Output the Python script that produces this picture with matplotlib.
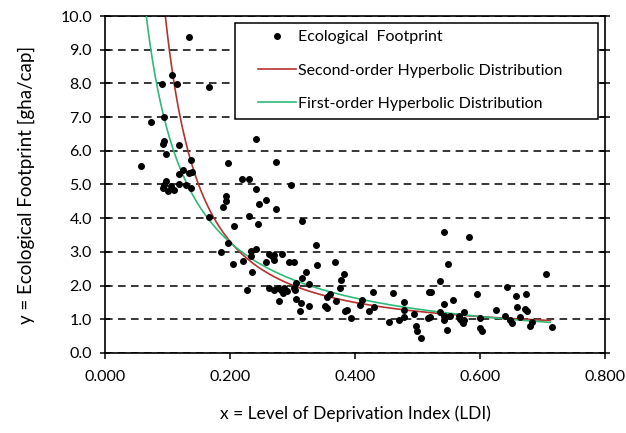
import numpy as np
import matplotlib
matplotlib.use('Agg')
import matplotlib.pyplot as plt
from matplotlib.patches import Rectangle

# Ecological footprint points (LDI, gha/cap)
ldi = [0.135, 0.107, 0.091, 0.115, 0.166, 0.094, 0.073, 0.095, 0.092, 0.119,
       0.098, 0.058, 0.137, 0.124, 0.118, 0.139, 0.135, 0.097, 0.094, 0.092,
       0.105, 0.100, 0.111, 0.118, 0.129, 0.138,
       0.242, 0.197, 0.274, 0.219, 0.231, 0.241, 0.297, 0.193, 0.194, 0.188,
       0.258, 0.246, 0.273, 0.166, 0.231, 0.207, 0.245, 0.316, 0.197, 0.186,
       0.233, 0.234, 0.242, 0.205, 0.221, 0.235, 0.263, 0.271, 0.267, 0.283,
       0.258, 0.270, 0.295, 0.303, 0.321, 0.315, 0.227, 0.263, 0.270, 0.277,
       0.282, 0.287, 0.291, 0.285, 0.278, 0.305, 0.302, 0.304, 0.305, 0.314,
       0.312, 0.326,
       0.543, 0.338, 0.549, 0.339, 0.368, 0.327, 0.383, 0.378, 0.376, 0.536,
       0.360, 0.356, 0.370, 0.429, 0.461, 0.518, 0.522, 0.557, 0.543, 0.412,
       0.408, 0.422, 0.430, 0.479, 0.478, 0.352, 0.356, 0.384, 0.387, 0.394,
       0.455, 0.470, 0.479, 0.494, 0.498, 0.500, 0.506, 0.517, 0.520, 0.536,
       0.542, 0.543, 0.547, 0.552, 0.566, 0.582, 0.706, 0.643, 0.595, 0.658,
       0.674, 0.659, 0.672, 0.675, 0.626, 0.575, 0.568, 0.571, 0.574, 0.573,
       0.601, 0.600, 0.603, 0.640, 0.648, 0.652, 0.665, 0.681, 0.683, 0.716]
footprint = [9.39, 8.25, 7.98, 7.98, 7.89, 7.00, 6.84, 6.28, 6.20, 6.16,
             5.89, 5.56, 5.72, 5.43, 5.31, 5.38, 5.34, 5.09, 4.99, 4.89,
             4.94, 4.82, 4.84, 5.02, 4.99, 4.89,
             6.34, 5.64, 5.67, 5.15, 5.15, 4.87, 4.99, 4.66, 4.50, 4.33,
             4.55, 4.43, 4.27, 4.03, 4.07, 3.77, 3.82, 3.93, 3.26, 2.99,
             3.01, 2.88, 3.09, 2.63, 2.73, 2.40, 2.94, 2.92, 2.88, 2.93,
             2.71, 2.75, 2.70, 2.70, 2.39, 2.21, 1.88, 1.94, 1.88, 1.92,
             1.86, 1.93, 1.85, 1.78, 1.55, 2.08, 1.93, 1.86, 1.61, 1.48,
             1.23, 1.40,
             3.58, 3.21, 2.64, 2.60, 2.70, 2.05, 2.35, 2.15, 1.93, 2.14,
             1.76, 1.65, 1.55, 1.80, 1.78, 1.80, 1.80, 1.56, 1.45, 1.58,
             1.43, 1.23, 1.36, 1.51, 1.28, 1.40, 1.33, 1.23, 1.28, 1.04,
             0.92, 0.99, 1.07, 1.14, 0.79, 0.64, 0.44, 1.04, 1.07, 1.20,
             1.09, 0.97, 0.69, 1.09, 1.09, 3.44, 2.35, 1.96, 1.75, 1.68,
             1.75, 1.35, 1.30, 1.25, 1.26, 1.22, 1.01, 0.94, 0.99, 0.89,
             1.04, 0.74, 0.64, 1.11, 0.99, 0.89, 1.07, 0.79, 0.91, 0.76]

# Fitted model coefficients (estimated from the drawn curves)
second_order = [0.51, 0.23, 0.066]   # y = a + b/x + c/x^2
first_order = [-0.02, 0.66]          # y = a + b/x
fit_range = [0.05, 0.713]

x_ticks = [0.0, 0.2, 0.4, 0.6, 0.8]
y_ticks = [0, 1, 2, 3, 4, 5, 6, 7, 8, 9, 10]

plt.rcParams['font.family'] = ['Lato', 'DejaVu Sans']

fig = plt.figure(figsize=(6.26, 4.33), dpi=100)
ax = fig.add_axes([0.168, 0.185, 0.798, 0.778])

xs = np.linspace(fit_range[0], fit_range[1], 400)
y2 = second_order[0] + second_order[1] / xs + second_order[2] / xs**2
y1 = first_order[0] + first_order[1] / xs

ax.plot(ldi, footprint, 'o', color='black', ms=4, ls='none',
        label='Ecological  Footprint', zorder=4)
ax.plot(xs, y2, color='#b8312f', lw=1.2, label='Second-order Hyperbolic Distribution', zorder=2)
ax.plot(xs, y1, color='#2fba78', lw=1.2, label='First-order Hyperbolic Distribution', zorder=3)

ax.set_xlim(0, 0.8)
ax.set_ylim(0, 10)
ax.set_xticks(x_ticks)
ax.set_yticks(y_ticks)
ax.set_xticklabels(['%.3f' % v for v in x_ticks], fontsize=11.5)
ax.set_yticklabels(['%.1f' % v for v in y_ticks], fontsize=11.5)

ax.yaxis.grid(True, color='black', lw=1.1, linestyle=(0, (5, 3.5)))
ax.set_axisbelow(True)
for s in ax.spines.values():
    s.set_linewidth(1.2)
    s.set_color('black')
ax.tick_params(axis='y', direction='inout', length=7, width=1.1, right=True, pad=6)
ax.tick_params(axis='x', direction='out', length=4, width=1.1, pad=8)
ax.tick_params(axis='y', which='both', labelright=False)

ax.set_xlabel('x = Level of Deprivation Index (LDI)', fontsize=12.5, labelpad=16)
ax.set_ylabel('y = Ecological Footprint [gha/cap]', fontsize=13.5, labelpad=18)

# legend box drawn separately so the inner padding matches the original
ax.add_patch(Rectangle((0.26, 0.694), 0.726, 0.285, transform=ax.transAxes,
                       facecolor='white', edgecolor='black', lw=1.1, zorder=5))
leg = ax.legend(loc='upper left', bbox_to_anchor=(0.305, 0.958),
                fontsize=11.5, frameon=False, handlelength=2.4,
                labelspacing=1.2, borderpad=0, handletextpad=0.15,
                borderaxespad=0)
leg.set_zorder(6)

fig.savefig('out.png', dpi=100)
